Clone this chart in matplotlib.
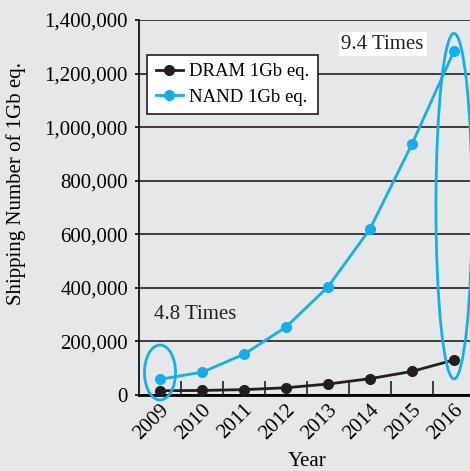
import matplotlib.pyplot as plt
import matplotlib.transforms as mtransforms
from matplotlib.patches import Ellipse
from matplotlib.ticker import FuncFormatter

years = [2009, 2010, 2011, 2012, 2013, 2014, 2015, 2016]
dram = [16000, 17000, 20000, 27000, 41000, 61000, 88000, 131000]
nand = [59000, 85000, 152000, 254000, 404000, 620000, 937000, 1284000]

bg = '#e6e7e9'
blue = '#16aee8'
dark = '#231f20'

plt.rcParams['font.family'] = ['Liberation Serif', 'DejaVu Serif']

fig = plt.figure(figsize=(4.70, 4.71), dpi=100, facecolor=bg)
ax = fig.add_axes([139 / 470, 76 / 471, 336 / 470, 375 / 471])
ax.set_facecolor(bg)

ax.plot(years, dram, color=dark, lw=2, marker='o', ms=7, label='DRAM 1Gb eq.', zorder=3)
ax.plot(years, nand, color=blue, lw=2, marker='o', ms=7, label='NAND 1Gb eq.', zorder=3)

ax.set_xlim(2008.5, 2016.5)
ax.set_ylim(0, 1400000)
ax.set_yticks(range(0, 1400001, 200000))
ax.yaxis.set_major_formatter(FuncFormatter(lambda v, p: f'{int(v):,}'))
ax.set_xticks(years)
ax.set_xticks([y + 0.5 for y in years[:-1]], minor=True)
ax.tick_params(axis='x', which='major', length=0, labelsize=15, pad=6)
ax.tick_params(axis='x', which='minor', direction='in', length=10, width=1.2, color=dark)
ax.tick_params(axis='y', length=3, width=1.2, labelsize=15, pad=5)
shift = mtransforms.ScaledTranslation(0.06, -0.04, fig.dpi_scale_trans)
for lbl in ax.get_xticklabels():
    lbl.set_rotation(45)
    lbl.set_ha('right')
    lbl.set_va('center')
    lbl.set_rotation_mode('anchor')
    lbl.set_transform(lbl.get_transform() + shift)

ax.grid(axis='y', color=dark, lw=1.2)
ax.set_axisbelow(True)
for s in ['top', 'right']:
    ax.spines[s].set_visible(False)
ax.spines['left'].set_linewidth(1.2)
ax.spines['bottom'].set_linewidth(2)

ax.set_xlabel('Year', fontsize=15)
ax.xaxis.set_label_coords(0.5, -0.152)
ax.set_ylabel('Shipping Number of 1Gb eq.', fontsize=15)
ax.yaxis.set_label_coords(-0.336, 0.565)

# ellipses marking the ratios
ax.add_patch(Ellipse((2009, 84000), 0.74, 205000, fill=False, ec=blue, lw=2,
                     zorder=4, clip_on=False))
ax.add_patch(Ellipse((2016.0, 705000), 0.86, 1290000, fill=False, ec=blue, lw=2,
                     zorder=4, clip_on=False))

ax.text(2008.85, 302000, '4.8 Times', fontsize=15, va='center', ha='left', color=dark)
ax.text(2013.32, 1310000, '9.4 Times', fontsize=15, va='center', ha='left', color=dark,
        bbox=dict(facecolor='white', edgecolor='none', pad=2))

leg = ax.legend(loc='upper left', bbox_to_anchor=(0.024, 0.907), fontsize=13.5, frameon=True,
                fancybox=False, edgecolor=dark, framealpha=1, borderpad=0.45,
                handlelength=1.45, handletextpad=0.35, labelspacing=0.45, borderaxespad=0)
leg.get_frame().set_linewidth(1.2)

fig.savefig('out.png', dpi=100, facecolor=bg)
